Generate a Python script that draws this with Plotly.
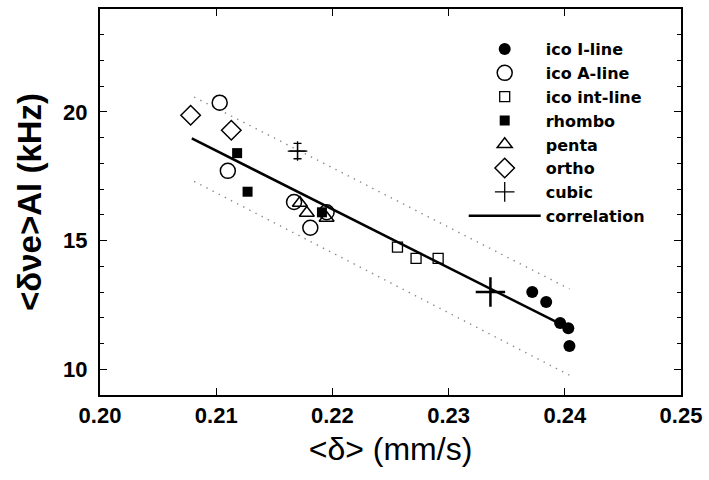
import plotly.graph_objects as go

# ---- data ----
ico_I_x = [0.2372, 0.2384, 0.2396, 0.2403, 0.2404]
ico_I_y = [13.00, 12.61, 11.80, 11.59, 10.90]

ico_A_x = [0.2103, 0.2110, 0.2167, 0.2181, 0.2195]
ico_A_y = [20.36, 17.71, 16.50, 15.50, 16.10]

ico_int_x = [0.2256, 0.2272, 0.2291]
ico_int_y = [14.75, 14.31, 14.31]

rhombo_x = [0.2118, 0.2127, 0.2191]
rhombo_y = [18.40, 16.90, 16.10]

penta_x = [0.2172, 0.2178, 0.2195]
penta_y = [16.46, 16.07, 15.88]

ortho_x = [0.2078, 0.2113]
ortho_y = [19.87, 19.29]

cubic_x = [0.2170]
cubic_y = [18.48]
cubic_err_x = [0.0007]
cubic_err_y = [0.30]

corr_x = [0.2079, 0.2397]
corr_y = [18.97, 11.74]

band_up_x = [0.2081, 0.2404]
band_up_y = [20.58, 13.12]
band_lo_x = [0.2081, 0.2404]
band_lo_y = [17.30, 9.77]

mean_x = [0.2336]
mean_y = [13.00]

x_ticks = [0.20, 0.21, 0.22, 0.23, 0.24, 0.25]
x_ticklabels = ["0.20", "0.21", "0.22", "0.23", "0.24", "0.25"]
y_ticks = [10, 15, 20]
y_ticklabels = ["10", "15", "20"]

FONT = "Liberation Sans"
LEGEND_FONT = "DejaVu Sans"
fig = go.Figure()

# bands (not in legend)
for bx, by in [(band_up_x, band_up_y), (band_lo_x, band_lo_y)]:
    fig.add_trace(go.Scatter(x=bx, y=by, mode="lines", showlegend=False,
                             line=dict(color="#888888", width=1.4, dash="1.4px,5.5px"),
                             hoverinfo="skip"))

fig.add_trace(go.Scatter(x=ico_I_x, y=ico_I_y, mode="markers", name="ico I-line",
                         marker=dict(symbol="circle", size=12, color="black")))
fig.add_trace(go.Scatter(x=ico_A_x, y=ico_A_y, mode="markers", name="ico A-line",
                         marker=dict(symbol="circle-open", size=15, color="black",
                                     line=dict(width=1.5))))
fig.add_trace(go.Scatter(x=ico_int_x, y=ico_int_y, mode="markers", name="ico int-line",
                         marker=dict(symbol="square-open", size=10, color="black",
                                     line=dict(width=1.3))))
fig.add_trace(go.Scatter(x=rhombo_x, y=rhombo_y, mode="markers", name="rhombo",
                         marker=dict(symbol="square", size=10, color="black")))
fig.add_trace(go.Scatter(x=penta_x, y=penta_y, mode="markers", name="penta",
                         marker=dict(symbol="triangle-up-open", size=13, color="black",
                                     line=dict(width=1.5))))
fig.add_trace(go.Scatter(x=ortho_x, y=ortho_y, mode="markers", name="ortho",
                         marker=dict(symbol="diamond-open", size=15, color="black",
                                     line=dict(width=1.5))))
fig.add_trace(go.Scatter(x=cubic_x, y=cubic_y, mode="markers", name="cubic",
                         marker=dict(symbol="cross-thin-open", size=14, color="black",
                                     line=dict(width=1.3, color="black")),
                         error_x=dict(type="data", array=cubic_err_x, color="black",
                                      thickness=1.3, width=0),
                         error_y=dict(type="data", array=cubic_err_y, color="black",
                                      thickness=1.3, width=4)))
fig.add_trace(go.Scatter(x=corr_x, y=corr_y, mode="lines", name="correlation",
                         line=dict(color="black", width=2.5)))
fig.add_trace(go.Scatter(x=mean_x, y=mean_y, mode="markers", showlegend=False,
                         marker=dict(symbol="cross-thin-open", size=21, color="black",
                                     line=dict(width=2.5, color="black"))))

axis_common = dict(
    showline=True, linecolor="black", linewidth=2, mirror="ticks",
    ticks="inside", tickcolor="black", tickwidth=1, ticklen=7,
    showgrid=False, zeroline=False,
    tickfont=dict(family=FONT, size=22, color="black", weight="bold"),
)

fig.update_layout(
    width=709, height=480,
    margin=dict(l=100, r=26, t=7, b=85),
    paper_bgcolor="white", plot_bgcolor="white",
    xaxis=dict(range=[0.20, 0.25], tickvals=x_ticks, ticktext=x_ticklabels,
               title=dict(text="&lt;δ&gt; (mm/s)", standoff=10,
                          font=dict(family=FONT, size=32, color="black")),
               **axis_common),
    yaxis=dict(range=[9, 24], tickvals=y_ticks, ticktext=y_ticklabels,
               minor=dict(dtick=1, tick0=0, ticks="inside", ticklen=4,
                          tickcolor="black", tickwidth=1, showgrid=False),
               ticklabelstandoff=6,
               title=dict(text="&lt;δνe&gt;Al (kHz)", standoff=12,
                          font=dict(family=FONT, size=33, color="black", weight="bold")),
               **axis_common),
    legend=dict(x=0.626, y=0.94, xanchor="left", yanchor="top",
                bgcolor="rgba(0,0,0,0)", borderwidth=0, itemwidth=72,
                font=dict(family=LEGEND_FONT, size=16, color="black", weight="bold"),
                tracegroupgap=0),
    showlegend=True,
)

fig.write_html("out.html")
